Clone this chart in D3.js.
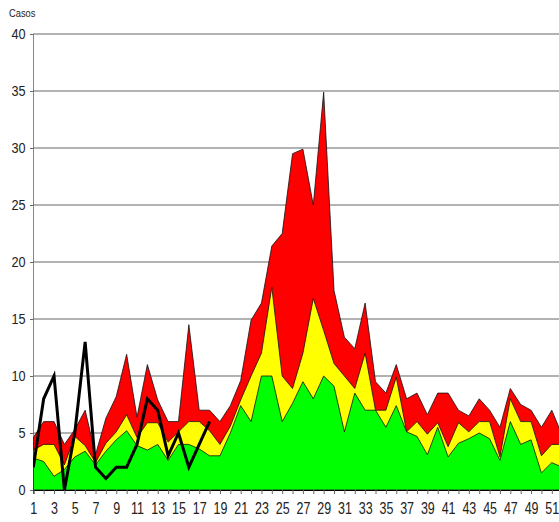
<!DOCTYPE html>
<html>
<head>
<meta charset="utf-8">
<script src="https://cdn.jsdelivr.net/npm/d3@7"></script>
<style>
  html, body { margin: 0; padding: 0; background: #fff; }
  svg { display: block; }
  text { font-family: "Liberation Sans", Arial, sans-serif; }
</style>
</head>
<body>
<svg id="chart" width="559" height="522"></svg>
<script>
const weeks = d3.range(1, 53);
const redValues = [4.6, 6, 6, 4, 5.3, 7, 3.1, 6.3, 8.2, 11.9,
  6.4, 11, 7.9, 6, 6, 14.5, 7, 7, 6, 7.4,
  9.6, 14.9, 16.4, 21.4, 22.5, 29.5, 29.9, 25, 34.9, 17.5,
  13.4, 12.4, 16.4, 9.5, 8.5, 11, 8, 8.5, 6.6, 8.5,
  8.5, 7, 6.5, 8, 7, 5.5, 8.9, 7.5, 7, 5.5, 7, 4.8];
const yellowValues = [3.5, 4, 4, 2.2, 4.7, 3.9, 2.4, 4.1, 5.1, 6.6,
  4.6, 5.9, 5.9, 4.2, 5.1, 6, 6, 5.2, 4, 5.6,
  7.9, 10, 12, 17.8, 10, 8.9, 12, 16.8, 14, 11.1,
  10, 8.9, 12, 7, 7, 9.9, 5.1, 6, 4.9, 5.9,
  3.8, 5.9, 5.1, 6, 6, 2.9, 8, 6, 6, 3, 4, 4];
const greenValues = [2.8, 2.5, 1.2, 1.8, 2.9, 3.4, 2.2, 3.4, 4.4, 5.2,
  3.9, 3.5, 4, 2.6, 4, 4, 3.6, 3, 3, 5,
  7.4, 6, 10, 10, 6, 7.6, 9.5, 8, 10, 9.1,
  5.1, 8.5, 7, 7, 5.5, 7.4, 5.1, 4.7, 3.1, 5.5,
  2.9, 4.1, 4.5, 5, 4.5, 2.6, 6, 4, 4.4, 1.5, 2.4, 2];
const currentWeeks = d3.range(1, 19);
const currentValues = [2, 8, 10, 0, 5, 13, 2, 1, 2, 2, 4, 8, 7, 3, 5, 2, 4, 6];
const yTicks = [0, 5, 10, 15, 20, 25, 30, 35, 40];
const xTickLabels = d3.range(1, 52, 2);
const yTitle = "Casos";

const svg = d3.select("#chart");
const W = 559, H = 522;

const x = d3.scaleLinear().domain([1, 52]).range([33.3, 33.3 + 51 * 10.37]);
const y = d3.scaleLinear().domain([0, 40]).range([490, 34]);

svg.append("defs").append("clipPath").attr("id", "plotclip")
  .append("rect").attr("x", 33).attr("y", 0).attr("width", W - 33).attr("height", 491);

// y axis
const yAxis = d3.axisLeft(y).tickValues(yTicks).tickSize(3).tickPadding(6);
const gy = svg.append("g").attr("transform", "translate(33,0)").call(yAxis);
gy.select(".domain").attr("stroke", "#888").attr("stroke-width", 1);
gy.selectAll(".tick line").attr("stroke", "#666");
gy.selectAll(".tick text").attr("font-size", 15.5).attr("fill", "#222")
  .attr("transform", "scale(0.82,1)");

// gridlines
svg.append("g").selectAll("line").data(yTicks.filter(d => d > 0)).join("line")
  .attr("x1", 33).attr("x2", W)
  .attr("y1", d => y(d)).attr("y2", d => y(d))
  .attr("stroke", "#666").attr("stroke-width", 1.2);

const plot = svg.append("g").attr("clip-path", "url(#plotclip)");

function band(values, color) {
  const area = d3.area()
    .x((d, i) => x(weeks[i]))
    .y0(y(0))
    .y1(d => y(d));
  plot.append("path").datum(values)
    .attr("d", area)
    .attr("fill", color)
    .attr("stroke", "#111")
    .attr("stroke-width", 0.8)
    .attr("stroke-linejoin", "round");
}
band(redValues, "#ff0000");
band(yellowValues, "#ffff00");
band(greenValues, "#00ff00");

const line = d3.line().x((d, i) => x(currentWeeks[i])).y(d => y(d));
plot.append("path").datum(currentValues)
  .attr("d", line)
  .attr("fill", "none")
  .attr("stroke", "#000")
  .attr("stroke-width", 3)
  .attr("stroke-linejoin", "miter");

// x axis
const xAxis = d3.axisBottom(x).tickValues(weeks).tickSize(4).tickPadding(9)
  .tickFormat(d => xTickLabels.includes(d) ? d : "");
const gx = svg.append("g").attr("transform", "translate(0,490)").call(xAxis);
gx.select(".domain").attr("stroke", "#000").attr("stroke-width", 1.2);
gx.selectAll(".tick line").attr("stroke", "#666");
gx.selectAll(".tick text").attr("font-size", 16).attr("fill", "#222")
  .attr("transform", "scale(0.78,1)");

svg.append("text").attr("transform", "translate(9,17) scale(0.85,1)")
  .attr("font-size", 11).attr("fill", "#222").text(yTitle);
</script>
</body>
</html>
